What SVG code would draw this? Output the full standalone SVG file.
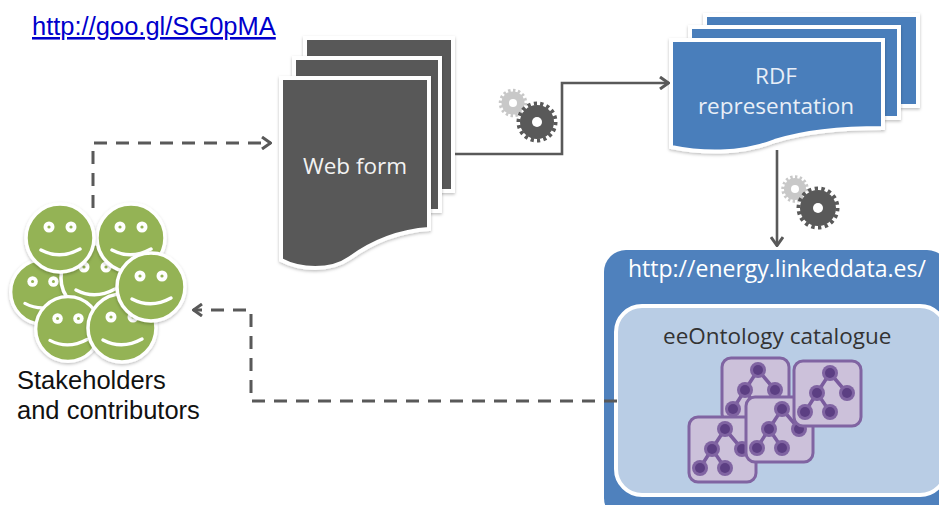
<svg xmlns="http://www.w3.org/2000/svg" xmlns:xlink="http://www.w3.org/1999/xlink" width="939" height="505" viewBox="0 0 939 505">
<style>
.sans{font-family:"Liberation Sans",Arial,sans-serif}
.ui{font-family:"Open Sans","Noto Sans",sans-serif}
.conn{fill:none;stroke:#595959;stroke-width:2.6}
.dash{stroke-dasharray:13 9;stroke-width:3}
.doc{stroke:#fff;stroke-width:4;filter:url(#sh)}
.dk{fill:#595959}
.bl{fill:#4a7ebb}
.face{fill:#94b354;stroke:#fff;stroke-width:3.5;filter:url(#sh)}
.eye{fill:#fff}
.pupil{fill:#94b354}
.smile{fill:none;stroke:#fff;stroke-width:3.5;stroke-linecap:round}
.icon{fill:#ccc1da;stroke:#8064a2;stroke-width:3}
.edge{stroke:#7a5c9e;stroke-width:3.5;fill:none}
.nd{fill:#8064a2}
.ni{fill:#5c3f83}
</style>
<defs>
<filter id="sh" x="-10%" y="-10%" width="120%" height="125%"><feDropShadow dx="0" dy="1.5" stdDeviation="1.5" flood-color="#000" flood-opacity="0.25"/></filter>
<marker id="ah" viewBox="0 0 12 14" refX="11" refY="7" markerWidth="12" markerHeight="14" markerUnits="userSpaceOnUse" orient="auto"><path d="M2 1 L10.5 7 L2 13" fill="none" stroke="#595959" stroke-width="3"/></marker>
<g id="tree">
<path class="edge" d="M23 32 L36 12 L53 32 M23 32 L11 51 M23 32 L36 51"/>
<circle class="nd" cx="36" cy="12" r="8"/><circle class="ni" cx="36" cy="12" r="5"/>
<circle class="nd" cx="23" cy="32" r="8"/><circle class="ni" cx="23" cy="32" r="5"/>
<circle class="nd" cx="53" cy="32" r="8"/><circle class="ni" cx="53" cy="32" r="5"/>
<circle class="nd" cx="11" cy="51" r="8"/><circle class="ni" cx="11" cy="51" r="5"/>
<circle class="nd" cx="36" cy="51" r="8"/><circle class="ni" cx="36" cy="51" r="5"/>
</g>
<g id="face">
<circle class="face" r="34"/>
<circle class="eye" cx="-11" cy="-11" r="5.5"/><circle class="pupil" cx="-11" cy="-11" r="1.6"/>
<circle class="eye" cx="11" cy="-11" r="5.5"/><circle class="pupil" cx="11" cy="-11" r="1.6"/>
<path class="smile" d="M-19 12 Q0 22 20 11"/>
</g>
</defs>
<rect width="939" height="505" fill="#fff"/>

<g id="link"><text class="sans" x="32" y="35" font-size="25.5" fill="#0000cc" text-decoration="underline">http://goo.gl/SG0pMA</text></g>

<g id="stakeholders">
<use xlink:href="#face" href="#face" transform="translate(43 292) scale(.95)"/>
<use xlink:href="#face" href="#face" transform="translate(95 278)"/>
<use xlink:href="#face" href="#face" transform="translate(131 238)"/>
<use xlink:href="#face" href="#face" transform="translate(60 238)"/>
<use xlink:href="#face" href="#face" transform="translate(68 329) scale(.95)"/>
<use xlink:href="#face" href="#face" transform="translate(122 328)"/>
<use xlink:href="#face" href="#face" transform="translate(151 287)"/>
<text class="sans" font-size="25.5" fill="#111" x="17" y="389">Stakeholders</text>
<text class="sans" font-size="25.5" fill="#111" x="17" y="419">and contributors</text>
</g>

<g id="webform">
<path class="doc dk" d="M305 38 H453 V191 H305Z"/>
<path class="doc dk" d="M294 58 H440 V211 H294Z"/>
<path class="doc dk" d="M281 78 H429 V229 C400 231 375 240 350 258 C330 272 300 270 281 260Z"/>
<text class="ui" x="355" y="174" font-size="22.5" fill="#f2f2f2" text-anchor="middle">Web form</text>
</g>

<g id="gear1">
<circle cx="513" cy="103" r="11.5" fill="#c8c8c8"/><circle cx="513" cy="103" r="12.5" fill="none" stroke="#c8c8c8" stroke-width="3.5" pathLength="32" stroke-dasharray="1 1"/><circle cx="513" cy="103" r="4" fill="#fff"/>
<circle cx="537" cy="122" r="17" fill="#595959"/><circle cx="537" cy="122" r="18.5" fill="none" stroke="#595959" stroke-width="4" pathLength="36" stroke-dasharray="1 1"/><circle cx="537" cy="122" r="5" fill="#fff"/>
</g>

<g id="rdf">
<path class="doc bl" d="M705 15 H918 V106 H705Z"/>
<path class="doc bl" d="M690 27 H899 V118 H690Z"/>
<path class="doc bl" d="M671 40 H883 V128 C850 128 810 130 775 141 C740 155 700 153 671 147Z"/>
<text class="ui" x="776" y="84" font-size="22.5" fill="#e8eef7" text-anchor="middle">RDF</text>
<text class="ui" x="776" y="114" font-size="22.5" fill="#e8eef7" text-anchor="middle">representation</text>
</g>

<g id="gear2">
<circle cx="795" cy="189" r="11" fill="#c8c8c8"/><circle cx="795" cy="189" r="12" fill="none" stroke="#c8c8c8" stroke-width="3.5" pathLength="32" stroke-dasharray="1 1"/><circle cx="795" cy="189" r="4" fill="#fff"/>
<circle cx="818" cy="208" r="18" fill="#595959"/><circle cx="818" cy="208" r="19.5" fill="none" stroke="#595959" stroke-width="4" pathLength="36" stroke-dasharray="1 1"/><circle cx="818" cy="208" r="5" fill="#fff"/>
</g>

<g id="server">
<rect x="604" y="250" width="345" height="270" rx="22" fill="#4f81bd"/>
<text class="ui" x="628" y="277" font-size="23" fill="#fff">http://energy.linkeddata.es/</text>
</g>

<g id="catalogue">
<rect x="616" y="306" width="330" height="189" rx="26" fill="#b9cde5" stroke="#fff" stroke-width="4"/>
<text class="ui" x="663" y="344" font-size="22.5" fill="#333">eeOntology catalogue</text>
</g>

<g id="ontology1"><rect class="icon" x="722" y="358" width="67" height="65" rx="9"/><use xlink:href="#tree" href="#tree" x="722" y="358"/></g>
<g id="ontology2"><rect class="icon" x="689" y="417" width="67" height="65" rx="9"/><use xlink:href="#tree" href="#tree" x="689" y="417"/></g>
<g id="ontology3"><rect class="icon" x="746" y="397" width="67" height="65" rx="9"/><use xlink:href="#tree" href="#tree" x="746" y="397"/></g>
<g id="ontology4"><rect class="icon" x="794" y="361" width="67" height="65" rx="9"/><use xlink:href="#tree" href="#tree" x="794" y="361"/></g>

<g id="connectors">
<path class="conn" marker-end="url(#ah)" d="M455 154 H562 V83 H669"/>
<path class="conn" marker-end="url(#ah)" d="M777 150 V246"/>
<path class="conn dash" marker-end="url(#ah)" d="M93 208 V143 H271"/>
<path class="conn dash" marker-end="url(#ah)" d="M617 401 H251 V310 H193"/>
</g>
</svg>
